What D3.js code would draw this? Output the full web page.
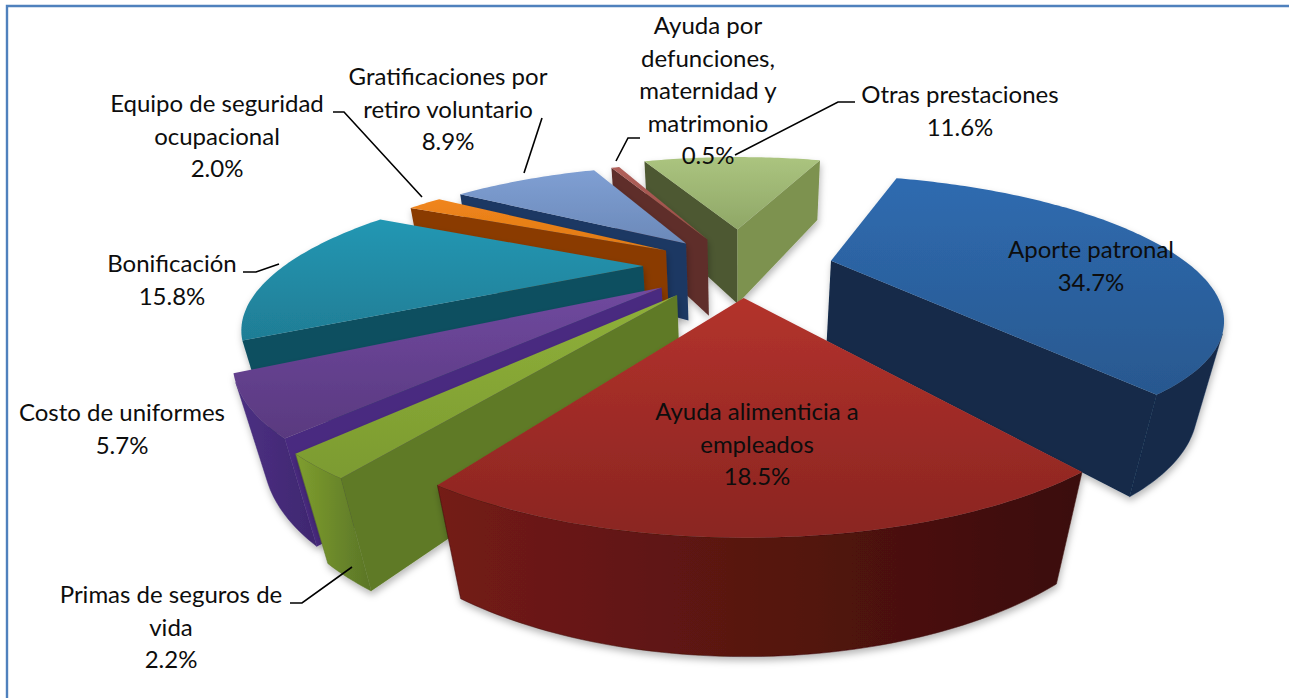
<!DOCTYPE html>
<html><head><meta charset="utf-8">
<script src="https://cdnjs.cloudflare.com/ajax/libs/d3/7.8.5/d3.min.js"></script>
<style>html,body{margin:0;padding:0;background:#fff}svg{display:block}text{font-family:Lato,"Open Sans",sans-serif;font-size:24px;fill:#0d0d0d;text-anchor:middle}</style>
</head><body><svg id="c" width="1289" height="698"></svg>
<script>
const categories=["Aporte patronal","Ayuda alimenticia a empleados","Primas de seguros de vida","Costo de uniformes","Bonificación","Equipo de seguridad ocupacional","Gratificaciones por retiro voluntario","Ayuda por defunciones, maternidad y matrimonio","Otras prestaciones"];
const shares=[34.7,18.5,2.2,5.7,15.8,2.0,8.9,0.5,11.6];
const explosion=[.26,.25,.28,.27,.27,.25,.25,.25,.33];
const topColors=[["#2f6bb0","#28588f"],["#b3322c","#8a2521"],["#8fb03a","#7c9b30"],["#70499f","#59397f"],["#2397b3","#1f7d95"],["#f0851c","#e07a14"],["#7f9fd3","#6b89b9"],["#b0605a","#9a4a45"],["#abc47f","#8fa767"]];
const outerColors=[["#12294a","#12294a"],["#741b16","#3a0d0b"],["#7f9e2e","#5a7527"],["#4c3083","#3f2770"],["#0f5063","#0d4454"],["#8c3b05","#7a3204"],["#1f3864","#1b3057"],["#6b2f2b","#5a2724"],["#6f8248","#8da05f"]];
const radialColors=[["#12294a","#12294a"],["#651a16","#651a16"],["#5e7a27","#5f7b27"],["#4a2a80","#46287a"],["#0f4f60","#0f4f60"],["#8a3a05","#8a3a05"],["#1f3864","#25406e"],["#5e2d29","#6e3530"],["#4e5931","#7d9250"]];
const labelLines=[["Aporte patronal","34.7%"],["Ayuda alimenticia a","empleados","18.5%"],["Primas de seguros de","vida","2.2%"],["Costo de uniformes","5.7%"],["Bonificación","15.8%"],["Equipo de seguridad","ocupacional","2.0%"],["Gratificaciones por","retiro voluntario","8.9%"],["Ayuda por","defunciones,","maternidad y","matrimonio","0.5%"],["Otras prestaciones","11.6%"]];
const labelAnchors=[[1091,258],[757,420],[171,603],[122,421],[172,272],[217,112],[448,85],[708,34],[960,103]];
const leaders=[null,null,[[352,567],[302,603],[290,603]],null,[[279,264],[256,272],[243,272]],[[422,197],[344,112],[333,112]],[[524,173],[542,118]],[[616,161],[628,138],[640,138]],[[735,155],[838,102],[855,102]]];

const cx=740,cy=265,a=358,b=120,h=85,k=.36,kz=.05,firstAngle=19.5;
const rad=Math.PI/180;
const svg=d3.select("#c");
const defs=svg.append("defs");
const f=defs.append("filter").attr("id","sh").attr("x","-20%").attr("y","-20%").attr("width","140%").attr("height","140%");
f.append("feDropShadow").attr("dx",1).attr("dy",4).attr("stdDeviation",3.5).attr("flood-color","#000").attr("flood-opacity",.28);
function grad(id,c,vertical){const g=defs.append("linearGradient").attr("id",id).attr("x1",0).attr("y1",0).attr("x2",vertical?0:1).attr("y2",vertical?1:0);
 g.append("stop").attr("offset",0).attr("stop-color",c[0]);g.append("stop").attr("offset",1).attr("stop-color",c[1]);return `url(#${id})`;}
svg.append("path").attr("d",d3.line()([[1289,6],[7,6],[7,698]])).attr("fill","none").attr("stroke","#4f81bd").attr("stroke-width",2.4);

const project=(X,Y,Z)=>{const s=1/(1+k*Y-kz*Z);return [cx+a*X*s,cy-b*Y*s-h*Z*s];};
const pie=d3.pie().sort(null).startAngle(firstAngle*rad).endAngle(firstAngle*rad+2*Math.PI);
const arcs=pie(shares).map((d,i)=>{
 const m=(d.startAngle+d.endAngle)/2,e=explosion[i],ox=e*Math.sin(m),oy=e*Math.cos(m);
 const n=Math.max(2,Math.ceil((d.endAngle-d.startAngle)/rad));
 const rim=d3.range(n+1).map(j=>{const t=d.startAngle+(d.endAngle-d.startAngle)*j/n;return [ox+Math.sin(t),oy+Math.cos(t)];});
 return {i,ox,oy,rim,depth:oy};
});
const line=d3.line();
const P=(p,z)=>project(p[0],p[1],z);
const order=arcs.slice().sort((p,q)=>q.depth-p.depth);
order.forEach(s=>{
 const g=svg.append("g").attr("filter","url(#sh)");
 const apex=[s.ox,s.oy];
 const quad=(u,v)=>[P(u,0),P(v,0),P(v,-1),P(u,-1)];
 let run=[];const flush=()=>{if(run.length){
   const tops=[run[0][0],...run.map(r=>r[1])];
   const poly=[...tops.map(t=>P(t,0)),...tops.slice().reverse().map(t=>P(t,-1))];
   g.append("path").attr("d",line(poly)+"Z").attr("fill",grad(`o${s.i}_${poly.length}`,outerColors[s.i],false)).attr("stroke",outerColors[s.i][1]).attr("stroke-width",.5);run=[];}};
 for(let j=0;j<s.rim.length-1;j++){
   if(d3.polygonArea(quad(s.rim[j],s.rim[j+1]))>0)run.push([s.rim[j],s.rim[j+1]]);else flush();
 }
 flush();
 const startWall=quad(apex,s.rim[0]),endWall=quad(s.rim[s.rim.length-1],apex);
 [[startWall,0],[endWall,1]].forEach(([q,idx])=>{
   if(d3.polygonArea(q)>0)g.append("path").attr("d",line(q)+"Z").attr("fill",radialColors[s.i][idx]);
 });
 const top=[apex,...s.rim].map(p=>P(p,0));
 g.append("path").attr("d",line(top)+"Z").attr("fill",grad("t"+s.i,topColors[s.i],true));
});
leaders.forEach(l=>{if(l)svg.append("path").attr("d",line(l)).attr("fill","none").attr("stroke","#000").attr("stroke-width",1.6);});
labelLines.forEach((ls,i)=>{
 const t=svg.append("text").attr("x",labelAnchors[i][0]).attr("y",labelAnchors[i][1]);
 ls.forEach((s,j)=>t.append("tspan").attr("x",labelAnchors[i][0]).attr("y",labelAnchors[i][1]+j*32.5).text(s));
});
</script></body></html>
